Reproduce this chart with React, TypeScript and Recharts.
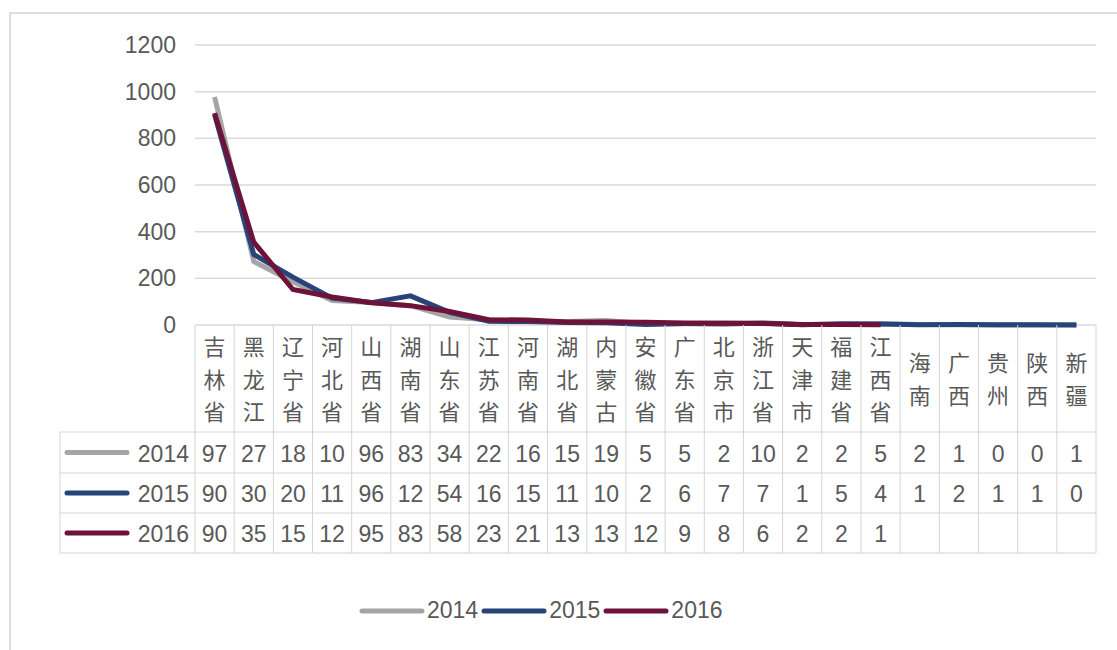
import React from "react";
import { CartesianGrid, Legend, Line, LineChart, XAxis, YAxis } from "recharts";

const provinces = [
  "吉林省", "黑龙江", "辽宁省", "河北省", "山西省", "湖南省", "山东省", "江苏省",
  "河南省", "湖北省", "内蒙古", "安徽省", "广东省", "北京市", "浙江省", "天津市",
  "福建省", "江西省", "海南", "广西", "贵州", "陕西", "新疆",
];
const v2014 = [977, 272, 185, 105, 96, 83, 34, 22, 16, 15, 19, 5, 5, 2, 10, 2, 2, 5, 2, 1, 0, 0, 1];
const v2015 = [902, 302, 205, 115, 96, 125, 54, 16, 15, 11, 10, 2, 6, 7, 7, 1, 5, 4, 1, 2, 1, 1, 0];
const v2016: (number | null)[] = [908, 355, 152, 120, 95, 83, 58, 23, 21, 13, 13, 12, 9, 8, 6, 2, 2, 1, null, null, null, null, null];
const yTicks = [0, 200, 400, 600, 800, 1000, 1200];

const series = [
  { key: "2014", values: v2014, color: "#a5a5a5" },
  { key: "2015", values: v2015, color: "#264478" },
  { key: "2016", values: v2016, color: "#6e1239" },
];

const data = provinces.map((name, i) => ({
  name,
  "2014": v2014[i],
  "2015": v2015[i],
  "2016": v2016[i],
}));

const W = 1117;
const H = 650;
const PLOT_LEFT = 195;
const PLOT_RIGHT = 21;
const COL_W = (W - PLOT_LEFT - PLOT_RIGHT) / provinces.length;
const LEGEND_COL = 135;
const FONT = "'Liberation Sans', 'Noto Sans CJK SC', sans-serif";
const TEXT = "#595959";
const BORDER = "#d4d4d4";

// cell text is clipped to two characters, like the narrow cells of the source table
const cellText = (v: number | null) => (v == null ? "" : String(v).slice(0, 2));

function TableTick(props: any) {
  const { x, y, index, payload } = props;
  const i = index ?? payload?.index ?? provinces.indexOf(payload.value);
  const chars = String(payload.value).split("");
  const left = x - COL_W / 2;
  const rows = [y + 107, y + 148, y + 188, y + 228];
  const headY = y + 55 - ((chars.length - 1) * 32.5) / 2;

  return (
    <g fontFamily={FONT} fill={TEXT}>
      <line x1={left} x2={left} y1={y} y2={rows[3]} stroke={BORDER} />
      {i === provinces.length - 1 && (
        <line x1={left + COL_W} x2={left + COL_W} y1={y} y2={rows[3]} stroke={BORDER} />
      )}
      {chars.map((c, k) => (
        <text key={k} x={x} y={headY + k * 32.5} textAnchor="middle" dominantBaseline="central" fontSize={22}>
          {c}
        </text>
      ))}
      {series.map((s, r) => (
        <text key={s.key} x={x} y={(rows[r] + rows[r + 1]) / 2 + 1} textAnchor="middle" dominantBaseline="central" fontSize={23}>
          {cellText(s.values[i])}
        </text>
      ))}
      {i === 0 && (
        <g>
          {rows.map((ry) => (
            <line key={ry} x1={left - LEGEND_COL} x2={left + COL_W * provinces.length} y1={ry} y2={ry} stroke={BORDER} />
          ))}
          <line x1={left - LEGEND_COL} x2={left - LEGEND_COL} y1={rows[0]} y2={rows[3]} stroke={BORDER} />
          {series.map((s, r) => {
            const cy = (rows[r] + rows[r + 1]) / 2;
            return (
              <g key={s.key}>
                <line x1={left - LEGEND_COL + 7} x2={left - LEGEND_COL + 67} y1={cy} y2={cy} stroke={s.color} strokeWidth={5} strokeLinecap="round" />
                <text x={left - 6} y={cy + 1} textAnchor="end" dominantBaseline="central" fontSize={23}>
                  {s.key}
                </text>
              </g>
            );
          })}
        </g>
      )}
    </g>
  );
}

function LegendRow(props: any) {
  const { payload } = props;
  return (
    <div style={{ display: "flex", alignItems: "center", fontFamily: FONT, fontSize: 23, color: TEXT }}>
      {(payload || []).map((p: any) => (
        <div key={p.value} style={{ display: "flex", alignItems: "center", marginRight: 3 }}>
          <svg width={66} height={10}>
            <line x1={3} x2={63} y1={5} y2={5} stroke={p.color} strokeWidth={5} strokeLinecap="round" />
          </svg>
          <span style={{ marginLeft: 2 }}>{p.value}</span>
        </div>
      ))}
    </div>
  );
}

export default function App() {
  return (
    <div style={{ position: "absolute", left: 0, top: 0, width: W, height: H, background: "#fff", overflow: "hidden" }}>
      <div
        style={{
          position: "absolute",
          left: 9,
          top: 12,
          width: W,
          height: H,
          borderTop: "2px solid #dedede",
          borderLeft: "2px solid #dedede",
        }}
      />
      <LineChart width={W} height={H} data={data} margin={{ top: 45, right: PLOT_RIGHT, bottom: 0, left: 0 }}>
        <CartesianGrid horizontal vertical={false} stroke="#d9d9d9" strokeWidth={1.5} />
        <XAxis
          dataKey="name"
          scale="band"
          interval={0}
          height={325}
          axisLine={false}
          tickLine={false}
          tickSize={0}
          tickMargin={0}
          tick={<TableTick />}
        />
        <YAxis
          width={PLOT_LEFT}
          domain={[0, 1200]}
          ticks={yTicks}
          axisLine={false}
          tickLine={false}
          tickSize={0}
          tickMargin={19}
          tick={{ fill: TEXT, fontSize: 23, fontFamily: FONT }}
        />
        {series.map((s) => (
          <Line
            key={s.key}
            dataKey={s.key}
            name={s.key}
            type="linear"
            stroke={s.color}
            strokeWidth={5}
            dot={false}
            activeDot={false}
            isAnimationActive={false}
          />
        ))}
        <Legend
          verticalAlign="middle"
          align="center"
          content={<LegendRow />}
          wrapperStyle={{ position: "absolute", top: 597, left: 359, width: "auto" }}
        />
      </LineChart>
    </div>
  );
}
